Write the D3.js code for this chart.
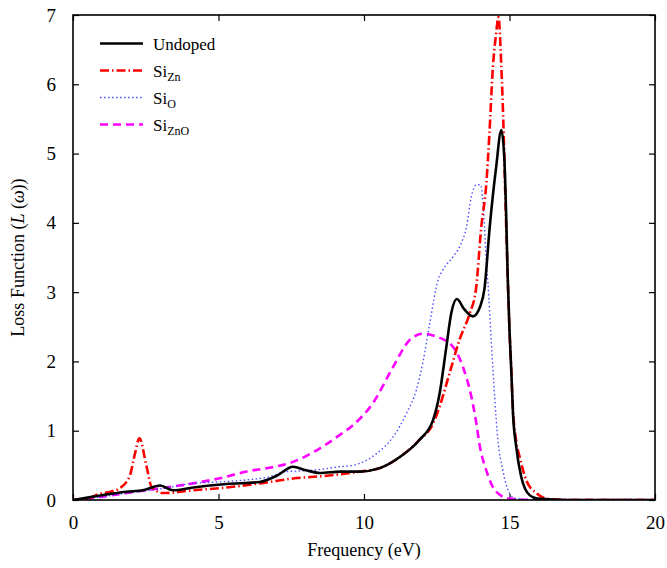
<!DOCTYPE html>
<html>
<head>
<meta charset="utf-8">
<script src="https://cdn.jsdelivr.net/npm/d3@7"></script>
<style>
  body { margin: 0; background: #fff; }
  svg text { font-family: "Liberation Serif", "Times New Roman", Times, "DejaVu Serif", serif; fill: #000; }
</style>
</head>
<body>
<script>
const width = 667,
  height = 568;

const margin = { top: 15, right: 12, bottom: 68, left: 73 };
const innerWidth = width - margin.left - margin.right;
const innerHeight = height - margin.top - margin.bottom;

// series: [frequency eV, loss]
const undoped = [
  [0, 0], [0.7, 0.05], [1.3, 0.09], [1.84, 0.12], [2.4, 0.14], [2.99, 0.21],
  [3.44, 0.14], [4.13, 0.18], [5.28, 0.23], [6.42, 0.26], [7.0, 0.35],
  [7.56, 0.48], [8.0, 0.43], [8.48, 0.39], [9.2, 0.41], [9.85, 0.41],
  [10.54, 0.46], [11.23, 0.62], [11.91, 0.87], [12.37, 1.15], [12.6, 1.54],
  [12.83, 2.21], [13.0, 2.7], [13.19, 2.9], [13.45, 2.75], [13.74, 2.65],
  [14.0, 2.8], [14.14, 3.05], [14.32, 3.94], [14.54, 4.8], [14.72, 5.34],
  [14.82, 4.95], [14.88, 4.2], [14.94, 3.2], [15.0, 2.45], [15.06, 1.88],
  [15.12, 1.25], [15.23, 0.77], [15.4, 0.34], [15.69, 0.07], [15.96, 0.02],
  [17, 0], [20, 0]
];

const siZn = [
  [0, 0], [0.4, 0.01], [0.93, 0.09], [1.3, 0.12], [1.61, 0.17], [1.96, 0.36],
  [2.13, 0.67], [2.28, 0.89], [2.53, 0.48], [2.7, 0.19], [3.1, 0.1],
  [4.13, 0.14], [5.28, 0.18], [6.42, 0.24], [7.56, 0.31], [8.71, 0.35],
  [9.85, 0.41], [10.54, 0.46], [11.23, 0.62], [11.91, 0.87], [12.37, 1.1],
  [12.6, 1.35], [12.94, 1.83], [13.28, 2.31], [13.63, 2.69], [13.85, 3.05],
  [14.03, 3.94], [14.2, 4.55], [14.31, 5.29], [14.43, 6.25], [14.54, 6.73],
  [14.62, 6.97], [14.72, 6.25], [14.8, 5.29], [14.86, 4.33], [14.94, 3.2],
  [15.0, 2.45], [15.06, 1.88], [15.12, 1.3], [15.23, 0.85], [15.35, 0.62],
  [15.57, 0.29], [15.92, 0.1], [16.26, 0.02], [17, 0], [20, 0]
];

const siO = [
  [0, 0], [0.7, 0.03], [1.84, 0.1], [3.0, 0.16], [4.13, 0.24], [5.0, 0.26],
  [5.96, 0.29], [6.7, 0.33], [7.33, 0.41], [7.8, 0.42], [8.25, 0.43],
  [9.17, 0.48], [9.62, 0.5], [10.43, 0.67], [11.0, 0.91], [11.46, 1.25],
  [11.8, 1.59], [12.03, 2.0], [12.26, 2.55], [12.54, 3.17], [12.71, 3.32],
  [13.06, 3.51], [13.29, 3.66], [13.52, 3.94], [13.69, 4.38], [13.86, 4.55],
  [14.0, 4.55], [14.09, 4.28], [14.14, 3.94], [14.2, 3.46], [14.26, 3.13],
  [14.37, 2.31], [14.49, 1.49], [14.6, 0.87], [14.77, 0.43], [15.0, 0.1],
  [15.23, 0.02], [16, 0], [20, 0]
];

const siZnO = [
  [0, 0], [0.7, 0.03], [1.84, 0.1], [2.99, 0.17], [4.13, 0.24], [5.0, 0.31],
  [5.96, 0.41], [6.8, 0.47], [7.56, 0.55], [8.5, 0.75], [9.17, 0.94],
  [9.62, 1.08], [10.31, 1.4], [11.0, 1.92], [11.57, 2.31], [12.03, 2.4],
  [12.48, 2.36], [13.06, 2.21], [13.4, 1.92], [13.69, 1.49], [13.86, 1.11],
  [13.97, 0.8], [14.2, 0.43], [14.54, 0.12], [15.0, 0.02], [16, 0], [20, 0]
];

const xTicks = [0, 5, 10, 15, 20];
const yTicks = [0, 1, 2, 3, 4, 5, 6, 7];

const serif = '"Liberation Serif", "Times New Roman", Times, "DejaVu Serif", serif';

const series = [
  { name: "Undoped", sub: "", data: undoped, color: "#000", width: 2.6, dash: null },
  { name: "Si", sub: "Zn", data: siZn, color: "#ff0000", width: 2.6, dash: "9,3,1.5,3" },
  { name: "Si", sub: "O", data: siO, color: "#4d4dff", width: 1.4, dash: "1.5,2.5" },
  { name: "Si", sub: "ZnO", data: siZnO, color: "#ff00ff", width: 2.6, dash: "8,5" }
];

const xScale = d3.scaleLinear().domain([0, 20]).range([0, innerWidth]);
const yScale = d3.scaleLinear().domain([0, 7]).range([innerHeight, 0]);

const svg = d3
  .select("body")
  .append("svg")
  .attr("width", width)
  .attr("height", height)
  .style("font-family", serif);

const mainG = svg
  .append("g")
  .attr("transform", `translate(${margin.left}, ${margin.top})`);

mainG
  .append("clipPath")
  .attr("id", "clip")
  .append("rect")
  .attr("width", innerWidth)
  .attr("height", innerHeight);

// axes, ticks pointing inward on all four sides
const xAxis = d3.axisBottom(xScale).tickValues(xTicks).tickFormat(d3.format("d"))
  .tickSizeInner(-6).tickSizeOuter(0).tickPadding(16);
const yAxis = d3.axisLeft(yScale).tickValues(yTicks).tickFormat(d3.format("d"))
  .tickSizeInner(-6).tickSizeOuter(0).tickPadding(17);

const gx = mainG.append("g").attr("transform", `translate(0,${innerHeight})`).call(xAxis);
const gy = mainG.append("g").call(yAxis);
const gxTop = mainG.append("g").call(d3.axisTop(xScale).tickValues(xTicks).tickSizeInner(-6).tickSizeOuter(0));
const gyRight = mainG
  .append("g")
  .attr("transform", `translate(${innerWidth},0)`)
  .call(d3.axisRight(yScale).tickValues(yTicks).tickSizeInner(-6).tickSizeOuter(0));

// mirror axes only keep their tick marks
gxTop.selectAll("text").remove();
gyRight.selectAll("text").remove();

[gx, gy, gxTop, gyRight].forEach(g => {
  g.attr("font-family", null).style("font-family", serif);
  g.select(".domain").remove();
  g.selectAll("line").attr("stroke", "#000").attr("stroke-width", 1.2);
  g.selectAll("text").attr("font-size", 19);
});

// lines
const line = d3
  .line()
  .x(d => xScale(d[0]))
  .y(d => yScale(d[1]))
  .curve(d3.curveMonotoneX);

const plot = mainG.append("g").attr("clip-path", "url(#clip)");

// draw the magenta first, black last so it sits on top
[3, 2, 1, 0].forEach(i => {
  const s = series[i];
  plot
    .append("path")
    .datum(s.data)
    .attr("fill", "none")
    .attr("stroke", s.color)
    .attr("stroke-width", s.width)
    .attr("stroke-dasharray", s.dash)
    .attr("d", line);
});

// frame
mainG
  .append("rect")
  .attr("width", innerWidth)
  .attr("height", innerHeight)
  .attr("fill", "none")
  .attr("stroke", "#000")
  .attr("stroke-width", 1.6);

// legend
const legend = mainG.append("g").attr("transform", "translate(27, 28.5)");

series.forEach((s, i) => {
  const row = legend.append("g").attr("transform", `translate(0,${i * 27})`);
  row
    .append("line")
    .attr("x1", 0)
    .attr("x2", 43)
    .attr("stroke", s.color)
    .attr("stroke-width", s.width)
    .attr("stroke-dasharray", s.dash);
  const t = row
    .append("text")
    .attr("x", 53)
    .attr("y", 6)
    .attr("font-size", 17)
    .text(s.name);
  if (s.sub) {
    t.append("tspan").attr("dy", 4).attr("font-size", 12).text(s.sub);
  }
});

// axis labels
mainG
  .append("text")
  .attr("x", innerWidth / 2)
  .attr("y", innerHeight + 56)
  .attr("text-anchor", "middle")
  .attr("font-size", 18)
  .text("Frequency (eV)");

const yLabel = mainG
  .append("text")
  .attr("x", -innerHeight / 2)
  .attr("y", -49)
  .attr("transform", "rotate(-90)")
  .attr("text-anchor", "middle")
  .attr("font-size", 18);
yLabel.append("tspan").text("Loss Function (");
yLabel.append("tspan").attr("font-style", "italic").text("L");
yLabel.append("tspan").text(" (");
yLabel.append("tspan").attr("font-style", "italic").text("ω");
yLabel.append("tspan").text("))");
</script>
</body>
</html>
